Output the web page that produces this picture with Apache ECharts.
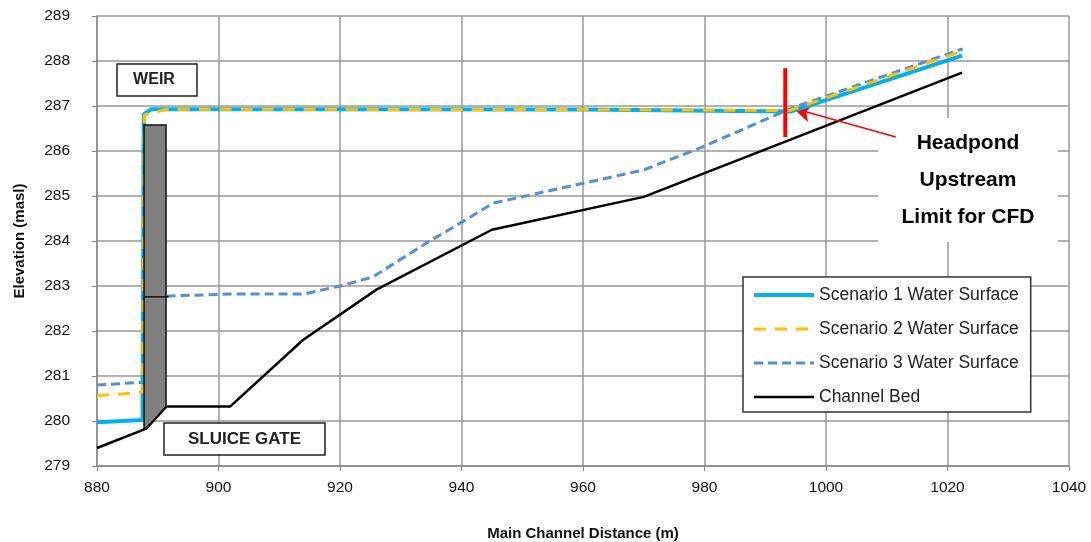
<!DOCTYPE html>
<html><head><meta charset="utf-8">
<script src="https://cdn.jsdelivr.net/npm/echarts@6/dist/echarts.min.js"></script>
<style>html,body{margin:0;padding:0;background:#fff}#c{width:1091px;height:542px}</style>
</head><body><div id="c"></div>
<script>
// ---- data ----
const xTicks = [880, 900, 920, 940, 960, 980, 1000, 1020, 1040];
const yTicks = [279, 280, 281, 282, 283, 284, 285, 286, 287, 288, 289];
const seriesNames = ['Scenario 1 Water Surface', 'Scenario 2 Water Surface', 'Scenario 3 Water Surface', 'Channel Bed'];
const scenario1 = [[880,279.97],[887.5,280.02],[887.7,286.82],[889,286.93],[920,286.93],[960,286.92],[994.3,286.88],[1022.4,288.12]];
const scenario2 = [[880,280.56],[887.5,280.64],[887.8,286.8],[891.5,286.93],[960,286.92],[994,286.9],[1022.4,288.22]];
const scenario3 = [[880,280.8],[887.6,280.86],[887.8,282.76],[892,282.78],[902,282.82],[914,282.82],[920,283.0],[925.4,283.2],[934.3,283.96],[940.2,284.43],[945.2,284.84],[970,285.58],[979.3,286.07],[994.5,286.96],[1022.5,288.27]];
const channelBed = [[880,279.4],[888.1,279.83],[891.4,280.32],[901.9,280.32],[913.9,281.8],[926,282.92],[945,284.25],[970,284.98],[1022.4,287.74]];
const gateX = [887.74, 891.36, 891.36, 888.1, 887.74];
const gateY = [286.58, 286.58, 280.32, 279.84, 279.84];
const gateLine = [[887.74, 282.76], [891.8, 282.76]];
const headpondLimit = [[993.3, 287.84], [993.3, 286.31]];
const arrowFrom = [1011.5, 286.31];
const arrowTo = [994.6, 286.95];
const headpondText = 'Headpond\nUpstream\nLimit for CFD';

const chart = echarts.init(document.getElementById('c'));
const font = '"Liberation Sans", Arial, sans-serif';
const legendWidths = [4, 3, 3, 2.5];
chart.setOption({
  animation: false,
  backgroundColor: '#fff',
  grid: { left: 97, right: 22, top: 16, bottom: 76, containLabel: false, outerBoundsMode: 'none' },
  xAxis: {
    type: 'value', min: 880, max: 1040, interval: 20,
    name: 'Main Channel Distance (m)', nameLocation: 'middle', nameGap: 60,
    nameTextStyle: { fontFamily: font, fontWeight: 'bold', fontSize: 15, color: '#111' },
    axisLine: { show: true, lineStyle: { color: '#888', width: 1.5 } },
    axisTick: { show: true, inside: false, length: 5, lineStyle: { color: '#888' } },
    axisLabel: { fontFamily: font, fontSize: 15.5, color: '#111', margin: 14, formatter: v => String(v) },
    splitLine: { show: true, lineStyle: { color: '#999', width: 1.5 } }
  },
  yAxis: {
    type: 'value', min: 279, max: 289, interval: 1,
    name: 'Elevation (masl)', nameLocation: 'middle', nameGap: 70, nameRotate: 90,
    nameTextStyle: { fontFamily: font, fontWeight: 'bold', fontSize: 15, color: '#111' },
    axisLine: { show: true, lineStyle: { color: '#888', width: 1.5 } },
    axisTick: { show: true, inside: false, length: 5, lineStyle: { color: '#888' } },
    axisLabel: { fontFamily: font, fontSize: 15.5, color: '#111', margin: 27, formatter: v => String(v) },
    splitLine: { show: true, lineStyle: { color: '#999', width: 1.5 } }
  },
  legend: {
    data: seriesNames.map((n, i) => ({ name: n, lineStyle: { width: legendWidths[i] } })),
    orient: 'vertical', left: 743, top: 277,
    itemWidth: 60, itemHeight: 14, itemGap: 16,
    padding: [9, 12, 6, 9], borderColor: '#333', borderWidth: 1.5, backgroundColor: '#fff',
    textStyle: { fontFamily: font, fontSize: 17.5, color: '#222' },
    itemStyle: { opacity: 0 },
    z: 20
  },
  graphic: [
    { type: 'rect', z: 1, shape: { x: 878, y: 118, width: 180, height: 124 }, style: { fill: '#fff' } },
    { type: 'text', z: 30, x: 968, y: 180, style: { text: headpondText, font: 'bold 21px ' + font, fill: '#000', align: 'center', verticalAlign: 'middle', lineHeight: 37 } },
    { type: 'rect', z: 30, shape: { x: 117, y: 64, width: 80, height: 32 }, style: { fill: '#fff', stroke: '#222', lineWidth: 1.5 } },
    { type: 'text', z: 31, x: 154, y: 80, style: { text: 'WEIR', font: 'bold 16px ' + font, fill: '#222', align: 'center', verticalAlign: 'middle' } },
    { type: 'rect', z: 30, shape: { x: 164, y: 423, width: 161, height: 32 }, style: { fill: '#fff', stroke: '#222', lineWidth: 1.5 } },
    { type: 'text', z: 31, x: 244.5, y: 439, style: { text: 'SLUICE GATE', font: 'bold 17px ' + font, fill: '#222', align: 'center', verticalAlign: 'middle' } }
  ],
  series: [
    { name: seriesNames[3], type: 'line', data: channelBed, symbol: 'none', z: 3,
      lineStyle: { color: '#000', width: 2.5 }, itemStyle: { color: '#000' } },
    { name: seriesNames[2], type: 'line', data: scenario3, symbol: 'none', z: 4,
      lineStyle: { color: '#558ED5', width: 3, type: [9, 5] }, itemStyle: { color: '#558ED5' } },
    { name: seriesNames[0], type: 'line', data: scenario1, symbol: 'none', z: 5,
      lineStyle: { color: '#00B0F0', width: 4 }, itemStyle: { color: '#00B0F0' } },
    { name: seriesNames[1], type: 'line', data: scenario2, symbol: 'none', z: 6,
      lineStyle: { color: '#FFC000', width: 3, type: [12, 9] }, itemStyle: { color: '#FFC000' } },
    { name: 'gate', type: 'custom', z: 8, data: [[gateX[0], gateY[0]]],
      renderItem: function (params, api) {
        const pts = gateX.map((x, i) => api.coord([x, gateY[i]]));
        const a = api.coord(gateLine[0]), b = api.coord(gateLine[1]);
        return { type: 'group', children: [
          { type: 'polygon', shape: { points: pts }, style: { fill: '#808080', stroke: '#111', lineWidth: 1.5 } },
          { type: 'line', shape: { x1: a[0], y1: a[1], x2: b[0], y2: b[1] }, style: { stroke: '#111', lineWidth: 1.5 } }
        ]};
      } },
    { name: 'limit', type: 'line', data: headpondLimit, symbol: 'none', z: 9,
      lineStyle: { color: '#FF0000', width: 4 },
      markLine: { silent: true, symbol: ['none', 'arrow'], symbolSize: [14, 18], label: { show: false },
        lineStyle: { color: '#FF0000', width: 1.5, type: 'solid' },
        data: [[{ coord: arrowFrom }, { coord: arrowTo }]] } }
  ]
});
</script></body></html>
